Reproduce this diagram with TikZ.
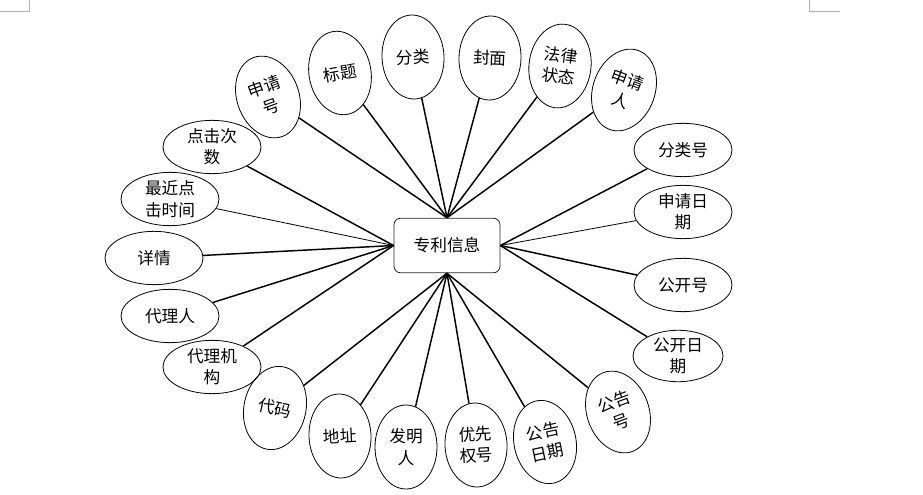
\documentclass[tikz,border=0pt]{standalone}
\usepackage{fontspec}
\newfontfamily\cjk{Noto Sans CJK SC}
\usetikzlibrary{shapes.geometric}

\begin{document}
\begin{tikzpicture}[x=0.75pt,y=-0.75pt,
    entity/.style={draw=black!85,rounded corners=5pt,line width=0.6pt,
        minimum width=79.5pt,minimum height=41pt,font=\cjk\fontsize{12.5}{16}\selectfont},
    attrh/.style={ellipse,draw,line width=0.6pt,inner sep=0pt,minimum width=73.5pt,
        minimum height=40pt,align=center,font=\cjk\fontsize{12.5}{16}\selectfont},
    attrv/.style={ellipse,draw,line width=0.6pt,inner sep=0pt,minimum width=46.5pt,
        minimum height=63pt,align=center,font=\cjk\fontsize{12.5}{16}\selectfont},
    link/.style={line width=1.1pt},
    thinlink/.style={line width=0.6pt}]
    \useasboundingbox (0,0) rectangle (923,495);

    % 页角标记
    \draw[black!30,line width=0.6pt] (0,11) -- (29,11) -- (29,0);
    \draw[black!30,line width=0.6pt] (809,0) -- (809,11) -- (840,11);

    % 实体
    \node[entity] (info) at (447,245.5) {专利信息};

    % 上方属性
    \node[attrv,rotate=20] (sqh) at (268,97) {申请\\号};
    \node[attrv,rotate=10] (bt) at (340,73) {标题};
    \node[attrv,rotate=3] (fl) at (413,57) {分类};
    \node[attrv,rotate=-2] (fm) at (490,58) {封面};
    \node[attrv,rotate=-7] (flzt) at (560,66) {法律\\状态};
    \node[attrv,rotate=-20] (sqr) at (624,90) {申请\\人};

    % 右侧属性
    \node[attrh] (flh) at (683,150) {分类号};
    \node[attrh] (sqrq) at (683,212) {申请日\\期};
    \node[attrh] (gkh) at (683,285) {公开号};
    \node[attrh,minimum width=67.5pt,minimum height=36pt] (gkrq) at (678,356) {公开日\\期};

    % 下方属性
    \node[attrv,rotate=20] (ggh) at (618,412) {公告\\号};
    \node[attrv,rotate=12] (ggrq) at (545,442) {公告\\日期};
    \node[attrv,rotate=3] (yxqh) at (476,445) {优先\\权号};
    \node[attrv] (fmr) at (406,447) {发明\\人};
    \node[attrv,rotate=3] (dz) at (340,436) {地址};
    \node[attrv,rotate=-12] (dm) at (275,408) {代码};

    % 左侧属性
    \node[attrh] (djcs) at (212,147) {点击次\\数};
    \node[attrh] (zjdj) at (170,199) {最近点\\击时间};
    \node[attrh] (xq) at (154,258) {详情};
    \node[attrh] (dlr) at (170,316) {代理人};
    \node[attrh] (dljg) at (212,367) {代理机\\构};

    % 连线
    \draw[link] (info.north) -- (sqh);
    \draw[link] (info.north) -- (bt);
    \draw[link] (info.north) -- (fl);
    \draw[link] (info.north) -- (fm);
    \draw[link] (info.north) -- (flzt);
    \draw[link] (info.north) -- (sqr);
    \draw[link] (info.east) -- (flh);
    \draw[thinlink] (info.east) -- (sqrq);
    \draw[link] (info.east) -- (gkh);
    \draw[link] (info.east) -- (gkrq);
    \draw[link] (info.south) -- (ggh);
    \draw[link] (info.south) -- (ggrq);
    \draw[link] (info.south) -- (yxqh);
    \draw[link] (info.south) -- (fmr);
    \draw[link] (info.south) -- (dz);
    \draw[link] (info.south) -- (dm);
    \draw[link] (info.west) -- (djcs);
    \draw[thinlink] (info.west) -- (zjdj);
    \draw[link] (info.west) -- (xq);
    \draw[link] (info.west) -- (dlr);
    \draw[link] (info.west) -- (dljg);
\end{tikzpicture}
\end{document}
